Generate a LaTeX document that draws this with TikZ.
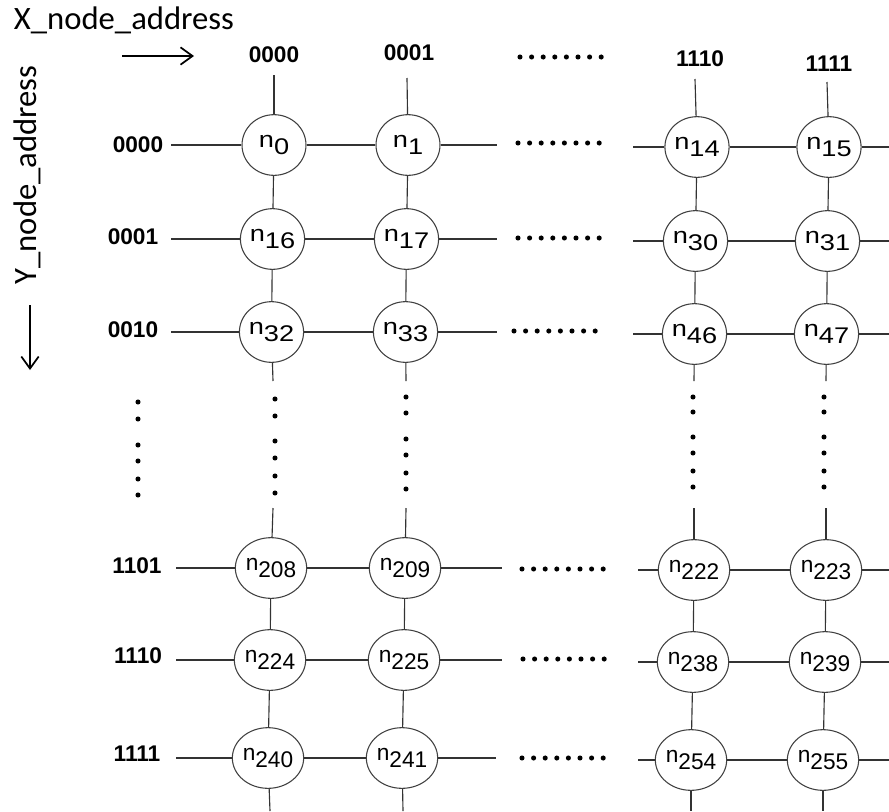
\documentclass[tikz,border=0pt]{standalone}
\usepackage{fontspec}
\setmainfont{Liberation Sans}
\newfontfamily\calib{Carlito}
\usetikzlibrary{shapes.geometric,arrows.meta}
\newcommand{\nlab}[2]{\scalebox{#2}[1]{n\raisebox{-4.8pt}{#1}}}
\begin{document}
\begin{tikzpicture}[x=0.75pt,y=-0.75pt,
  nd/.style={draw=black!75, line width=0.8pt, ellipse, minimum width=48pt, minimum height=45.5pt, inner sep=0pt, font=\fontsize{17}{19}\selectfont},
  ln/.style={draw=black!80, line width=0.85pt},
  addr/.style={font=\bfseries\fontsize{17}{19}\selectfont, inner sep=0pt},
  axis/.style={font=\calib\fontsize{24.5}{28}\selectfont, inner sep=0pt},
  arr/.style={draw=black, line width=1.3pt, -{Straight Barb[length=9pt,width=13pt,line width=1.3pt]}},
  dotf/.style={fill=black}]
\useasboundingbox (0,0) rectangle (889,811);

% axis titles and arrows
\node[axis] (xlab) at (124,20) {X\_node\_address};
\node[axis, rotate=90] (ylab) at (27,175) {Y\_node\_address};
\coordinate (xa1) at (122,56);
\coordinate (xa2) at (194,56);
\draw[arr] (xa1) -- (xa2);
\coordinate (ya1) at (30,305);
\coordinate (ya2) at (30,370);
\draw[arr] (ya1) -- (ya2);

% column labels
\node[addr] (cl0) at (274,55) {0000};
\node[addr] (cl1) at (409,53) {0001};
\node[addr] (cl2) at (700,59) {1110};
\node[addr] (cl3) at (829,64) {1111};

% row labels
\node[addr] (rl0) at (138,145) {0000};
\node[addr] (rl1) at (133,237) {0001};
\node[addr] (rl2) at (133,330) {0010};
\node[addr] (rl3) at (137,566) {1101};
\node[addr] (rl4) at (138,656) {1110};
\node[addr] (rl5) at (137,754) {1111};

% nodes
\foreach \r/\y/\dx/\base/\sc in {0/145/0/0/1.2, 1/239/-1.5/16/1.2, 2/332/-2.5/32/1.2, 3/568/-3/208/1.0, 4/660/-4/224/1.0, 5/758/-6/240/1.0} {
  \foreach \c/\x/\dy/\off in {0/274/0/0, 1/408/0/1, 2/697/2/14, 3/829/2/15} {
    \pgfmathtruncatemacro\idx{\base+\off}
    \node[nd] (n\r\c) at (\x+\dx,\y+\dy) {\nlab{\idx}{\sc}};
  }
}

% horizontal connectors
\foreach \r/\y/\lx/\rx/\mx in {0/145/171/497/633, 1/239/171/497/633, 2/332/171/497/633, 3/568/176/502/638, 4/660/176/502/638, 5/758/176/496/638} {
  \coordinate (hl\r) at (\lx,\y);
  \coordinate (hr\r) at (\rx,\y);
  \coordinate (hm\r) at (\mx,\y+2);
  \coordinate (he\r) at (889,\y+2);
  \draw[ln] (hl\r) -- (n\r0);
  \draw[ln] (n\r0) -- (n\r1);
  \draw[ln] (n\r1) -- (hr\r);
  \draw[ln] (hm\r) -- (n\r2);
  \draw[ln] (n\r2) -- (n\r3);
  \draw[ln] (n\r3) -- (he\r);
}

% vertical connectors
\foreach \c/\x/\ty in {0/273/75, 1/406/78, 2/694/79, 3/826/82} {
  \coordinate (vt\c) at (\x+1,\ty);
  \coordinate (vm\c) at (\x,381);
  \coordinate (vn\c) at (\x,508);
  \coordinate (vb\c) at (\x-3,811);
  \draw[ln] (vt\c) -- (n0\c);
  \draw[ln] (n0\c) -- (n1\c);
  \draw[ln] (n1\c) -- (n2\c);
  \draw[ln] (n2\c) -- (vm\c);
  \draw[ln] (vn\c) -- (n3\c);
  \draw[ln] (n3\c) -- (n4\c);
  \draw[ln] (n4\c) -- (n5\c);
  \draw[ln] (n5\c) -- (vb\c);
}

% horizontal dot runs
\foreach \x/\y in {520/57, 518/143, 518/238, 514/331, 522/569, 523/659, 522/758} {
  \foreach \i in {0,...,7} {
    \fill[dotf] (\x+\i*11.6,\y) circle[radius=1.9pt];
  }
}

% vertical dot runs
\foreach \x/\a/\b/\cc/\d/\e/\f in {138/402/419/445/461/479/495, 275/399/416/441/458/476/493, 406/397/413/439/455/473/489, 693/397/412/437/453/471/487, 824/397/412/437/453/471/487} {
  \foreach \yy in {\a,\b,\cc,\d,\e,\f} {
    \fill[dotf] (\x,\yy) circle[radius=1.9pt];
  }
}
\end{tikzpicture}
\end{document}
